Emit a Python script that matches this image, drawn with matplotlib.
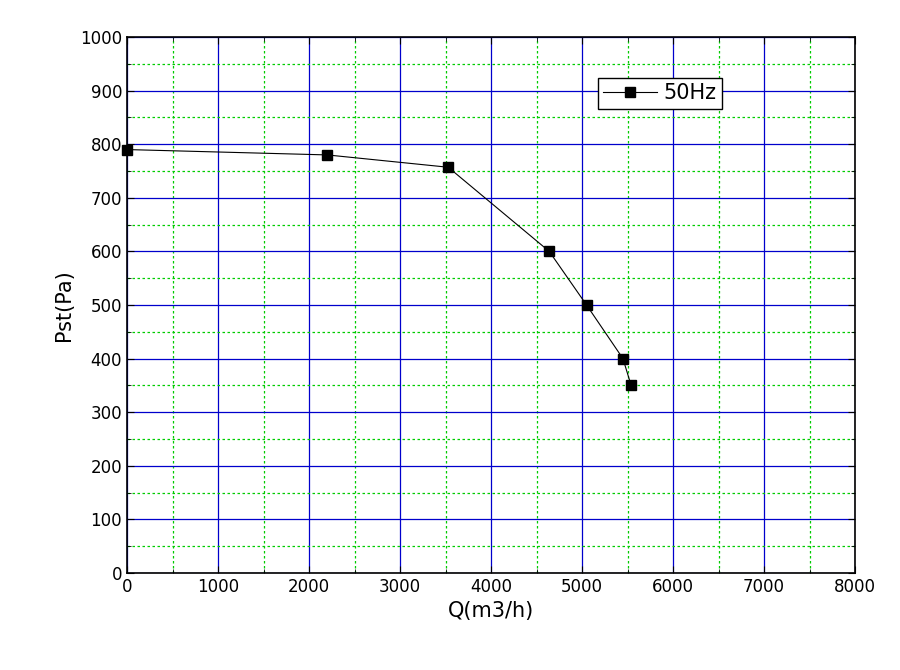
import matplotlib
matplotlib.use('Agg')
import matplotlib.pyplot as plt
from matplotlib.ticker import MultipleLocator

flow = [0, 2200, 3530, 4640, 5050, 5450, 5540]
pressure = [790, 780, 757, 600, 500, 400, 350]

fig = plt.figure(figsize=(9, 6.7), dpi=100)
ax = fig.add_axes([127 / 900, 1 - 573 / 670, (855 - 127) / 900, (573 - 37) / 670])

ax.plot(flow, pressure, color='black', linewidth=0.8, marker='s', markersize=7,
        label='50Hz', clip_on=False, zorder=5)

ax.set_xlim(0, 8000)
ax.set_ylim(0, 1000)
ax.xaxis.set_major_locator(MultipleLocator(1000))
ax.xaxis.set_minor_locator(MultipleLocator(500))
ax.yaxis.set_major_locator(MultipleLocator(100))
ax.yaxis.set_minor_locator(MultipleLocator(50))
ax.grid(True, which='major', color='#0000cc', linewidth=0.9)
ax.grid(True, which='minor', color='#00cc00', linestyle=(0, (2, 2)), linewidth=0.9)
ax.set_axisbelow(True)
ax.tick_params(which='both', direction='in', labelsize=12, top=True, right=True)
ax.tick_params(which='major', length=5)
ax.tick_params(which='minor', length=3)
for s in ax.spines.values():
    s.set_linewidth(1.2)

ax.set_xlabel('Q(m3/h)', fontsize=15)
ax.set_ylabel('Pst(Pa)', fontsize=15)

leg = ax.legend(loc='upper left', bbox_to_anchor=(0.647, 0.923), fontsize=15,
                fancybox=False, framealpha=1, edgecolor='black', handlelength=2.6,
                handletextpad=0.3, borderpad=0.25, borderaxespad=0)
leg.get_frame().set_linewidth(1.0)

fig.savefig('out.png', dpi=100)
